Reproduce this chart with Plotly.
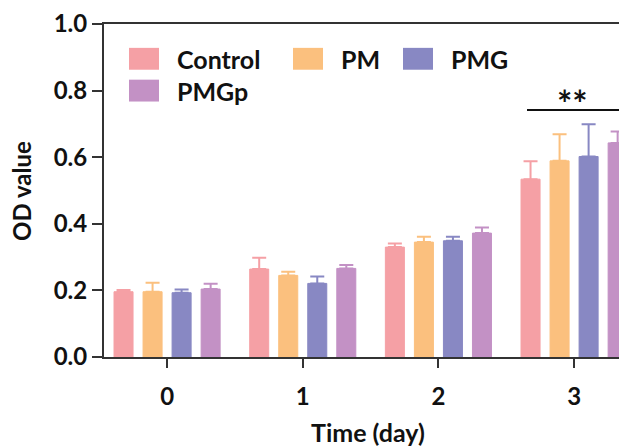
import plotly.graph_objects as go

# ---- data ----
days = ["0", "1", "2", "3"]
series_names = ["Control", "PM", "PMG", "PMGp"]
control_mean = [0.196, 0.264, 0.330, 0.534]
control_sd = [0.005, 0.034, 0.011, 0.054]
pm_mean = [0.196, 0.245, 0.345, 0.589]
pm_sd = [0.027, 0.011, 0.016, 0.080]
pmg_mean = [0.193, 0.221, 0.349, 0.602]
pmg_sd = [0.010, 0.021, 0.012, 0.097]
pmgp_mean = [0.204, 0.266, 0.372, 0.643]
pmgp_sd = [0.016, 0.010, 0.017, 0.034]
y_ticks = [0.0, 0.2, 0.4, 0.6, 0.8, 1.0]
y_tick_labels = ["0.0", "0.2", "0.4", "0.6", "0.8", "1.0"]
sig_label = "**"
sig_level = 0.742

colors = ["#F5A0A5", "#FBC07E", "#8888C3", "#C391C5"]
means = [control_mean, pm_mean, pmg_mean, pmgp_mean]
sds = [control_sd, pm_sd, pmg_sd, pmgp_sd]

# the page body has an 8px default margin; lay out in window pixels
OFF = 8
WIN_W, WIN_H = 627, 446
W, H = WIN_W - OFF, WIN_H - OFF
PLOT_L, PLOT_R, PLOT_T, PLOT_B = 104, 627, 22, 357   # window pixels
ML, MR, MT = PLOT_L - OFF, WIN_W - PLOT_R, PLOT_T - OFF
MB = H - (PLOT_B - OFF)
PW, PH = PLOT_R - PLOT_L, PLOT_B - PLOT_T
FONT = "Lato"
INK = "#111111"
AXC = "#333333"


def px_x(px):
    return (px - PLOT_L) / PW


def px_y(py):
    return (PLOT_B - py) / PH


fig = go.Figure()
for name, m, s, c in zip(series_names, means, sds, colors):
    fig.add_trace(go.Bar(
        x=days, y=m, name=name,
        marker=dict(color=c, line=dict(color=c, width=1)),
        error_y=dict(type="data", array=s, arrayminus=[0] * len(s),
                     symmetric=False, color=c, thickness=2, width=7),
        showlegend=False,
    ))

# custom legend (large swatches, two rows)
legend_items = [
    (series_names[0], colors[0], 129, 57),
    (series_names[1], colors[1], 293, 57),
    (series_names[2], colors[2], 403, 57),
    (series_names[3], colors[3], 129, 89),
]
shapes = []
annotations = []
for name, c, sx, cy in legend_items:
    shapes.append(dict(type="rect", xref="paper", yref="paper",
                       x0=px_x(sx), x1=px_x(sx + 30),
                       y0=px_y(cy + 11), y1=px_y(cy - 11),
                       fillcolor=c, line=dict(width=0), layer="above"))
    annotations.append(dict(text=name, xref="paper", yref="paper",
                            x=px_x(sx + 46), y=px_y(cy), xanchor="left", yanchor="middle",
                            showarrow=False,
                            font=dict(family=FONT, size=25, color=INK, weight="bold")))

# significance bracket over day 3
shapes.append(dict(type="line", xref="x", yref="y", x0=2.653, x1=3.332,
                   y0=sig_level, y1=sig_level, line=dict(color=INK, width=2)))
annotations.append(dict(text=sig_label, xref="x", yref="y", x=2.99, y=sig_level,
                        xanchor="center", yanchor="bottom", yshift=-17, showarrow=False,
                        font=dict(family=FONT, size=36, color=INK, weight="bold")))

# axis titles
annotations.append(dict(text="OD value", xref="paper", yref="paper",
                        x=px_x(22), y=px_y(190), textangle=-90,
                        xanchor="center", yanchor="middle", showarrow=False,
                        font=dict(family=FONT, size=24, color=INK, weight="bold")))
annotations.append(dict(text="Time (day)", xref="paper", yref="paper",
                        x=px_x(368), y=px_y(432),
                        xanchor="center", yanchor="middle", showarrow=False,
                        font=dict(family=FONT, size=25, color=INK, weight="bold")))

fig.update_layout(
    width=W, height=H, autosize=False,
    margin=dict(l=ML, r=MR, t=MT, b=MB, pad=0),
    paper_bgcolor="white", plot_bgcolor="white",
    barmode="group", bargap=0.144, bargroupgap=0.345,
    shapes=shapes, annotations=annotations,
    font=dict(family=FONT, color=INK),
)
fig.update_xaxes(
    type="category", range=[-0.465, 3.39],
    showline=True, linecolor=AXC, linewidth=2, mirror=True,
    ticks="outside", ticklen=9, tickwidth=2, tickcolor=AXC,
    ticklabelstandoff=8,
    showgrid=False, zeroline=False,
    tickfont=dict(family=FONT, size=24, color=INK, weight="bold"),
)
fig.update_yaxes(
    range=[0, 1.0], tickvals=y_ticks, ticktext=y_tick_labels,
    showline=True, linecolor=AXC, linewidth=2,
    ticks="outside", ticklen=10, tickwidth=2, tickcolor=AXC,
    ticklabeloverflow="allow",
    showgrid=False, zeroline=False,
    tickfont=dict(family=FONT, size=24, color=INK, weight="bold"),
)

fig.write_html("out.html")
